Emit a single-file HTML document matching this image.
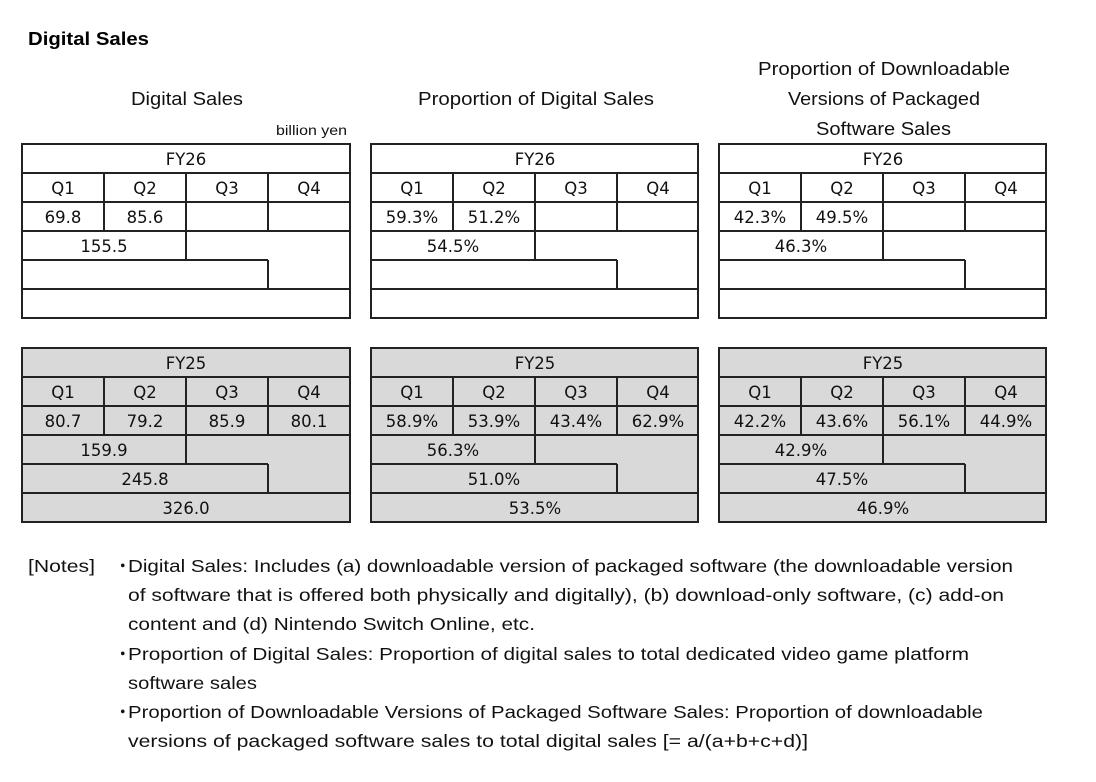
<!DOCTYPE html>
<html><head><meta charset="utf-8"><style>
body{margin:0;background:#fff;}
svg{display:block;font-family:"Liberation Sans",sans-serif;}
.t text{font-family:"DejaVu Sans",sans-serif;font-size:16.5px;fill:#111;text-anchor:middle;}
.t line,.t rect{stroke:#222;stroke-width:2;}
.n{font-size:17.5px;fill:#111;}
</style></head><body>
<svg width="1096" height="782" viewBox="0 0 1096 782">
<text x="28" y="45" font-size="18" font-weight="bold" fill="#000" textLength="121" lengthAdjust="spacingAndGlyphs">Digital Sales</text>
<g font-size="18" fill="#111">
<text x="131" y="105" textLength="112" lengthAdjust="spacingAndGlyphs">Digital Sales</text>
<text x="418" y="105" textLength="236" lengthAdjust="spacingAndGlyphs">Proportion of Digital Sales</text>
<text x="758" y="75" textLength="252" lengthAdjust="spacingAndGlyphs">Proportion of Downloadable</text>
<text x="788" y="105" textLength="192" lengthAdjust="spacingAndGlyphs">Versions of Packaged</text>
<text x="816" y="135" textLength="135" lengthAdjust="spacingAndGlyphs">Software Sales</text>
</g>
<text x="276" y="135" font-size="14" fill="#111" textLength="71" lengthAdjust="spacingAndGlyphs">billion yen</text>

<g class="t" transform="translate(22,144)">
<rect x="0" y="0" width="328" height="174" fill="#fff"/>
<line x1="0" y1="29" x2="328" y2="29"/><line x1="0" y1="58" x2="328" y2="58"/><line x1="0" y1="87" x2="328" y2="87"/><line x1="0" y1="145" x2="328" y2="145"/><line x1="0" y1="116" x2="246" y2="116"/>
<line x1="82" y1="29" x2="82" y2="87"/><line x1="164" y1="29" x2="164" y2="116"/><line x1="246" y1="29" x2="246" y2="87"/><line x1="246" y1="116" x2="246" y2="145"/>
<text x="164" y="21">FY26</text><text x="41" y="50">Q1</text><text x="123" y="50">Q2</text><text x="205" y="50">Q3</text><text x="287" y="50">Q4</text>
<text x="41" y="79">69.8</text><text x="123" y="79">85.6</text><text x="82" y="108">155.5</text>
</g>
<g class="t" transform="translate(371,144)">
<rect x="0" y="0" width="327" height="174" fill="#fff"/>
<line x1="0" y1="29" x2="327" y2="29"/><line x1="0" y1="58" x2="327" y2="58"/><line x1="0" y1="87" x2="327" y2="87"/><line x1="0" y1="145" x2="327" y2="145"/><line x1="0" y1="116" x2="246" y2="116"/>
<line x1="82" y1="29" x2="82" y2="87"/><line x1="164" y1="29" x2="164" y2="116"/><line x1="246" y1="29" x2="246" y2="87"/><line x1="246" y1="116" x2="246" y2="145"/>
<text x="164" y="21">FY26</text><text x="41" y="50">Q1</text><text x="123" y="50">Q2</text><text x="205" y="50">Q3</text><text x="287" y="50">Q4</text>
<text x="41" y="79">59.3%</text><text x="123" y="79">51.2%</text><text x="82" y="108">54.5%</text>
</g>
<g class="t" transform="translate(719,144)">
<rect x="0" y="0" width="327" height="174" fill="#fff"/>
<line x1="0" y1="29" x2="327" y2="29"/><line x1="0" y1="58" x2="327" y2="58"/><line x1="0" y1="87" x2="327" y2="87"/><line x1="0" y1="145" x2="327" y2="145"/><line x1="0" y1="116" x2="246" y2="116"/>
<line x1="82" y1="29" x2="82" y2="87"/><line x1="164" y1="29" x2="164" y2="116"/><line x1="246" y1="29" x2="246" y2="87"/><line x1="246" y1="116" x2="246" y2="145"/>
<text x="164" y="21">FY26</text><text x="41" y="50">Q1</text><text x="123" y="50">Q2</text><text x="205" y="50">Q3</text><text x="287" y="50">Q4</text>
<text x="41" y="79">42.3%</text><text x="123" y="79">49.5%</text><text x="82" y="108">46.3%</text>
</g>

<g class="t" transform="translate(22,348)">
<rect x="0" y="0" width="328" height="174" fill="#d9d9d9"/>
<line x1="0" y1="29" x2="328" y2="29"/><line x1="0" y1="58" x2="328" y2="58"/><line x1="0" y1="87" x2="328" y2="87"/><line x1="0" y1="145" x2="328" y2="145"/><line x1="0" y1="116" x2="246" y2="116"/>
<line x1="82" y1="29" x2="82" y2="87"/><line x1="164" y1="29" x2="164" y2="116"/><line x1="246" y1="29" x2="246" y2="87"/><line x1="246" y1="116" x2="246" y2="145"/>
<text x="164" y="21">FY25</text><text x="41" y="50">Q1</text><text x="123" y="50">Q2</text><text x="205" y="50">Q3</text><text x="287" y="50">Q4</text>
<text x="41" y="79">80.7</text><text x="123" y="79">79.2</text><text x="205" y="79">85.9</text><text x="287" y="79">80.1</text>
<text x="82" y="108">159.9</text><text x="123" y="137">245.8</text><text x="164" y="166">326.0</text>
</g>
<g class="t" transform="translate(371,348)">
<rect x="0" y="0" width="327" height="174" fill="#d9d9d9"/>
<line x1="0" y1="29" x2="327" y2="29"/><line x1="0" y1="58" x2="327" y2="58"/><line x1="0" y1="87" x2="327" y2="87"/><line x1="0" y1="145" x2="327" y2="145"/><line x1="0" y1="116" x2="246" y2="116"/>
<line x1="82" y1="29" x2="82" y2="87"/><line x1="164" y1="29" x2="164" y2="116"/><line x1="246" y1="29" x2="246" y2="87"/><line x1="246" y1="116" x2="246" y2="145"/>
<text x="164" y="21">FY25</text><text x="41" y="50">Q1</text><text x="123" y="50">Q2</text><text x="205" y="50">Q3</text><text x="287" y="50">Q4</text>
<text x="41" y="79">58.9%</text><text x="123" y="79">53.9%</text><text x="205" y="79">43.4%</text><text x="287" y="79">62.9%</text>
<text x="82" y="108">56.3%</text><text x="123" y="137">51.0%</text><text x="164" y="166">53.5%</text>
</g>
<g class="t" transform="translate(719,348)">
<rect x="0" y="0" width="327" height="174" fill="#d9d9d9"/>
<line x1="0" y1="29" x2="327" y2="29"/><line x1="0" y1="58" x2="327" y2="58"/><line x1="0" y1="87" x2="327" y2="87"/><line x1="0" y1="145" x2="327" y2="145"/><line x1="0" y1="116" x2="246" y2="116"/>
<line x1="82" y1="29" x2="82" y2="87"/><line x1="164" y1="29" x2="164" y2="116"/><line x1="246" y1="29" x2="246" y2="87"/><line x1="246" y1="116" x2="246" y2="145"/>
<text x="164" y="21">FY25</text><text x="41" y="50">Q1</text><text x="123" y="50">Q2</text><text x="205" y="50">Q3</text><text x="287" y="50">Q4</text>
<text x="41" y="79">42.2%</text><text x="123" y="79">43.6%</text><text x="205" y="79">56.1%</text><text x="287" y="79">44.9%</text>
<text x="82" y="108">42.9%</text><text x="123" y="137">47.5%</text><text x="164" y="166">46.9%</text>
</g>

<g class="n">
<text x="28" y="572" textLength="67" lengthAdjust="spacingAndGlyphs">[Notes]</text>
<text x="114" y="572">・</text><text x="128" y="572" textLength="885" lengthAdjust="spacingAndGlyphs">Digital Sales: Includes (a) downloadable version of packaged software (the downloadable version</text>
<text x="128" y="601" textLength="876" lengthAdjust="spacingAndGlyphs">of software that is offered both physically and digitally), (b) download-only software, (c) add-on</text>
<text x="128" y="630" textLength="407" lengthAdjust="spacingAndGlyphs">content and (d) Nintendo Switch Online, etc.</text>
<text x="114" y="660">・</text><text x="128" y="660" textLength="841" lengthAdjust="spacingAndGlyphs">Proportion of Digital Sales: Proportion of digital sales to total dedicated video game platform</text>
<text x="128" y="689" textLength="129" lengthAdjust="spacingAndGlyphs">software sales</text>
<text x="114" y="718">・</text><text x="128" y="718" textLength="855" lengthAdjust="spacingAndGlyphs">Proportion of Downloadable Versions of Packaged Software Sales: Proportion of downloadable</text>
<text x="128" y="747" textLength="680" lengthAdjust="spacingAndGlyphs">versions of packaged software sales to total digital sales [= a/(a+b+c+d)]</text>
</g>
</svg>
</body></html>
